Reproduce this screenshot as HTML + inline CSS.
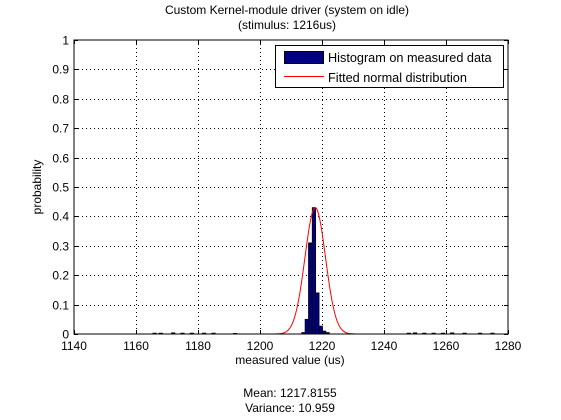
<!DOCTYPE html>
<html><head><meta charset="utf-8"><style>
body{margin:0;background:#fff;}
svg{display:block;font-family:"Liberation Sans",Arial,sans-serif;}
</style></head><body>
<svg id="chart" width="561" height="420" viewBox="0 0 561 420">
<rect x="0" y="0" width="561" height="420" fill="#fff"/>
<text x="287" y="14" font-size="12" text-anchor="middle">Custom Kernel-module driver (system on idle)</text>
<text x="287" y="29" font-size="12" text-anchor="middle">(stimulus: 1216us)</text>
<g id="grid"></g>
<g id="marks"></g>
<rect x="74" y="40" width="434" height="294" fill="none" stroke="#000" stroke-width="1"/>
<g id="ticks"></g>
<text x="290" y="364" font-size="12" text-anchor="middle">measured value (us)</text>
<text transform="translate(41,187) rotate(-90)" font-size="12" text-anchor="middle">probability</text>
<text x="290" y="397" font-size="12" text-anchor="middle">Mean: 1217.8155</text>
<text x="290" y="412" font-size="12" text-anchor="middle">Variance: 10.959</text>
<g>
<rect x="275.5" y="45.5" width="228" height="42" fill="#fff" stroke="#000"/>
<rect x="284.5" y="51.5" width="39" height="12" fill="#000080" stroke="#000"/>
<text x="328" y="62" font-size="12.7">Histogram on measured data</text>
<line x1="284" y1="76.5" x2="324" y2="76.5" stroke="#f00"/>
<text x="328" y="82" font-size="12.7">Fitted normal distribution</text>
</g>
</svg>
<script>
const xTicks=[1140,1160,1180,1200,1220,1240,1260,1280];
const yTicks=[0,0.1,0.2,0.3,0.4,0.5,0.6,0.7,0.8,0.9,1];
const yTickLabels=["0","0.1","0.2","0.3","0.4","0.5","0.6","0.7","0.8","0.9","1"];
const binCenters=[1214.0,1215.1,1216.2,1217.4,1218.5,1219.6,1220.7,1221.8];
const binValues=[0.005,0.05,0.31,0.43,0.14,0.027,0.01,0.005];
const sparseCenters=[1166,1168,1172,1175,1178,1182,1185,1192,1248,1250,1253,1256,1259,1262,1266,1271,1275];
const sparseValues=[0.003,0.003,0.004,0.003,0.003,0.003,0.003,0.002,0.003,0.004,0.003,0.003,0.003,0.004,0.003,0.003,0.003];
const fitMean=1217.8155, fitVariance=10.959, fitPeak=0.43;
const binWidth=1.12;
const X0=74,X1=508,Y0=334,Y1=40;
const sx=v=>X0+(v-1140)/(1280-1140)*(X1-X0);
const sy=v=>Y0-v*(Y0-Y1);
const NS="http://www.w3.org/2000/svg";
function mk(t,a,p){const e=document.createElementNS(NS,t);for(const k in a)e.setAttribute(k,a[k]);p.appendChild(e);return e;}
const grid=document.getElementById('grid'),ticks=document.getElementById('ticks'),marks=document.getElementById('marks');
xTicks.forEach((t,i)=>{const x=Math.round(sx(t))+0.5;
 if(i>0&&i<xTicks.length-1){const g=mk('line',{x1:x,y1:Y1,x2:x,y2:Y0,stroke:'#000','stroke-dasharray':'1,3'},grid);
 
 }
 mk('line',{x1:x,y1:Y0,x2:x,y2:Y0-4,stroke:'#000'},ticks);
 mk('line',{x1:x,y1:Y1,x2:x,y2:Y1+4,stroke:'#000'},ticks);
 const l=mk('text',{x:sx(t),y:Y0+16,'font-size':12,'text-anchor':'middle'},ticks);l.textContent=t;
 
 
});
yTicks.forEach((t,i)=>{const y=Math.round(sy(t))+0.5;
 if(i>0&&i<yTicks.length-1){const g=mk('line',{x1:X0,y1:y,x2:X1,y2:y,stroke:'#000','stroke-dasharray':'1,3'},grid);
 
 }
 mk('line',{x1:X0,y1:y,x2:X0+4,y2:y,stroke:'#000'},ticks);
 mk('line',{x1:X1,y1:y,x2:X1-4,y2:y,stroke:'#000'},ticks);
 const l=mk('text',{x:X0-5,y:y+4,'font-size':12,'text-anchor':'end'},ticks);l.textContent=yTickLabels[i];
 
 
});
function bar(c,v){const x=sx(c-binWidth/2),w=sx(c+binWidth/2)-x;const b=mk('rect',{x:x,y:sy(v),width:w,height:Y0-sy(v),fill:'#000080',stroke:'#000','stroke-width':0.7},marks);
 
 }
sparseCenters.forEach((c,i)=>bar(c,sparseValues[i]));
binCenters.forEach((c,i)=>bar(c,binValues[i]));
let d='';
for(let v=1200;v<=1236;v+=0.25){const p=fitPeak*Math.exp(-Math.pow(v-fitMean,2)/(2*fitVariance));d+=(d?'L':'M')+sx(v).toFixed(2)+','+sy(p).toFixed(2);}
const fit=mk('path',{d:d,fill:'none',stroke:'#f00','stroke-width':1},marks);


</script>
</body></html>
